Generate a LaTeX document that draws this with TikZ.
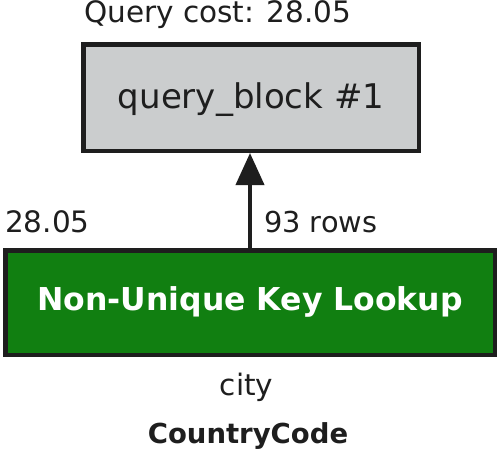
\documentclass[tikz,border=0pt]{standalone}
\usepackage{fontspec}
\setmainfont{DejaVu Sans}
\usetikzlibrary{arrows.meta}
\definecolor{boxgray}{HTML}{CBCDCE}
\definecolor{opgreen}{HTML}{117F11}
\definecolor{ink}{HTML}{1E1E1E}
\tikzset{
  lbl/.style={inner sep=0pt, text=ink, font=\fontsize{29.5}{32}\selectfont},
  blockbox/.style={draw=ink, line width=4.5pt, fill=boxgray, text=ink,
    minimum width=335.5pt, minimum height=106.5pt, inner sep=0pt,
    font=\fontsize{34}{38}\selectfont, text height=21pt, text depth=0pt},
  opbox/.style={draw=ink, line width=4.5pt, fill=opgreen, text=white,
    minimum width=489.5pt, minimum height=104.5pt, inner sep=0pt,
    font=\bfseries\fontsize{31.5}{35}\selectfont, text height=15pt, text depth=0pt},
  flow/.style={draw=ink, line width=4pt, -{Triangle[width=28pt,length=32pt]}}
}
\begin{document}
\begin{tikzpicture}[x=1pt,y=-1pt]
\useasboundingbox[fill=white] (0,0) rectangle (500,458);
\node[blockbox] (qb) at (251,97.5) {query\_block \#1};
\node[opbox] (nukl) at (250,302.5) {Non-Unique Key Lookup};
\node[lbl, anchor=base west] (cost) at (84,22) {Query cost: 28.05};
\node[lbl, anchor=base west] (opcost) at (5,232) {28.05};
\node[lbl, anchor=base west, font=\fontsize{28.8}{32}\selectfont] (rows) at (264,232) {93 rows};
\node[lbl, anchor=base] (tbl) at (246.5,395) {city};
\node[lbl, anchor=base, font=\bfseries\fontsize{27.5}{30}\selectfont] (key) at (248,443) {CountryCode};
\draw[flow] (nukl.north) -- (nukl.north |- qb.south);
\end{tikzpicture}
\end{document}
